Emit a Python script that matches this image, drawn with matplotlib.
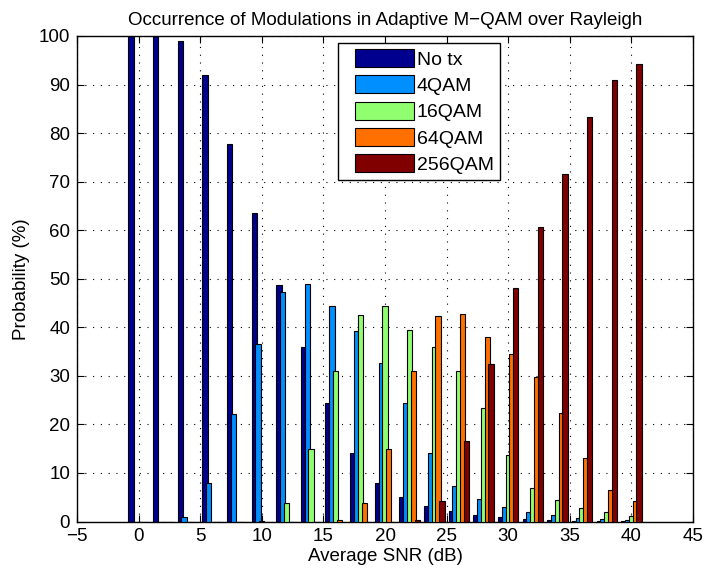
import matplotlib
matplotlib.use("Agg")
import matplotlib.pyplot as plt
from matplotlib.container import BarContainer
from matplotlib.legend_handler import HandlerPatch, update_from_first_child
from matplotlib.patches import Rectangle
import numpy as np

# SNR points (dB) and occurrence (%) of each modulation
snr = [0, 2, 4, 6, 8, 10, 12, 14, 16, 18, 20, 22, 24, 26, 28, 30, 32, 34, 36, 38, 40]
no_tx = [100, 100, 99.0, 92.0, 77.8, 63.5, 48.8, 35.9, 24.5, 14.1, 7.9,
         5.0, 3.1, 2.2, 1.4, 0.9, 0.5, 0.3, 0.15, 0.05, 0.03]
qam4 = [0, 0, 0.9, 7.9, 22.2, 36.5, 47.2, 48.9, 44.3, 39.2, 32.6,
        24.4, 14.2, 7.4, 4.6, 2.9, 2.0, 1.3, 0.8, 0.45, 0.3]
qam16 = [0, 0, 0, 0, 0, 0.1, 3.8, 15.0, 30.9, 42.6, 44.3,
         39.4, 35.9, 30.9, 23.4, 13.8, 7.0, 4.4, 2.7, 1.9, 1.2]
qam64 = [0, 0, 0, 0, 0, 0, 0, 0, 0.3, 3.8, 15.0,
         30.9, 42.3, 42.7, 37.9, 34.5, 29.7, 22.3, 13.0, 6.5, 4.2]
qam256 = [0, 0, 0, 0, 0, 0, 0, 0, 0, 0, 0,
          0.3, 4.2, 16.6, 32.4, 48.0, 60.6, 71.5, 83.3, 90.9, 94.2]

labels = ["No tx", "4QAM", "16QAM", "64QAM", "256QAM"]
series = [no_tx, qam4, qam16, qam64, qam256]
# jet colormap, 5 levels (MATLAB default for bar groups)
colors = [(0, 0, 0.5625), (0, 0.5625, 1), (0.5625, 1, 0.4375), (1, 0.4375, 0), (0.5, 0, 0)]

plt.rcParams['font.family'] = ['Liberation Sans', 'DejaVu Sans']
fs = 13.5

fig = plt.figure(figsize=(7.04, 5.74), dpi=100)
ax = fig.add_axes([77/704, 1 - 521.5/574, 616/704, 485.5/574])

x = np.array(snr, dtype=float)
spacing = 2.0
slot = spacing * min(0.8, 5/6.5) / 5
for i, (vals, lab, col) in enumerate(zip(series, labels, colors)):
    off = (i - 2) * slot
    ax.bar(x + off, vals, width=0.43, color=col, edgecolor='k',
           linewidth=0.8, label=lab, zorder=2 + i)

ax.set_xlim(-5, 45)
ax.set_ylim(0, 100)
ax.set_xticks(np.arange(-5, 46, 5))
ax.set_yticks(np.arange(0, 101, 10))
ax.tick_params(direction='in', top=True, right=True, length=5, width=0.8,
               labelsize=fs, pad=5)
ax.grid(True, color='k', linestyle=(0, (1, 6)), linewidth=0.8, zorder=0)
ax.set_axisbelow(True)
for s in ax.spines.values():
    s.set_linewidth(1.0)

ax.set_xlabel("Average SNR (dB)", fontsize=fs, labelpad=2)
ax.set_ylabel("Probability (%)", fontsize=fs, labelpad=6)
ax.set_title("Occurrence of Modulations in Adaptive M\u2212QAM over Rayleigh",
             fontsize=fs, pad=8)


# legend swatch indented a bit from the frame, like MATLAB
def swatch(legend, orig_handle, xdescent, ydescent, width, height, fontsize):
    gap = 8.0
    return Rectangle((-xdescent + gap, -ydescent), width - gap, height)


leg = ax.legend(loc='upper left', bbox_to_anchor=(0.4237, 0.985),
                borderaxespad=0, fancybox=False, framealpha=1,
                edgecolor='k', fontsize=14, handlelength=3.6,
                handleheight=1.05, labelspacing=0.34, handletextpad=0.15,
                borderpad=0.3,
                handler_map={BarContainer: HandlerPatch(patch_func=swatch,
                                                        update_func=update_from_first_child)})
leg.get_frame().set_linewidth(1.0)

fig.savefig("out.png", dpi=100)
